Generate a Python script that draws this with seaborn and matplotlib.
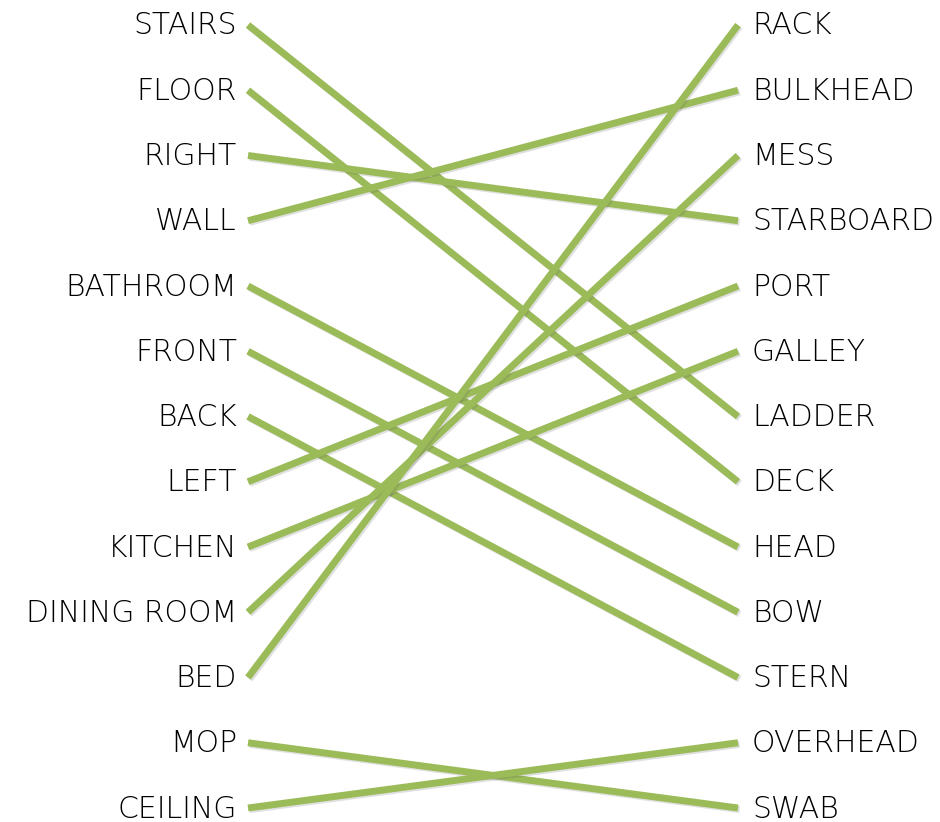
import matplotlib
matplotlib.use("Agg")
import matplotlib.pyplot as plt
import matplotlib.patheffects as pe
import numpy as np
import pandas as pd
import seaborn as sns

# words on each side, top to bottom
left_words = ["STAIRS", "FLOOR", "RIGHT", "WALL", "BATHROOM", "FRONT", "BACK",
              "LEFT", "KITCHEN", "DINING ROOM", "BED", "MOP", "CEILING"]
right_words = ["RACK", "BULKHEAD", "MESS", "STARBOARD", "PORT", "GALLEY", "LADDER",
               "DECK", "HEAD", "BOW", "STERN", "OVERHEAD", "SWAB"]

# which right-hand word each left-hand word is matched to
matches = ["LADDER", "DECK", "STARBOARD", "BULKHEAD", "HEAD", "BOW", "STERN",
           "PORT", "GALLEY", "MESS", "RACK", "SWAB", "OVERHEAD"]

sns.set_theme(style="white")
plt.rcParams['font.family'] = ['DejaVu Sans']

rows = []
for i, (lw, rw) in enumerate(zip(left_words, matches)):
    rows.append({"link": i, "side": 0.0, "row": left_words.index(lw)})
    rows.append({"link": i, "side": 1.0, "row": right_words.index(rw)})
df = pd.DataFrame(rows)

fig = plt.figure(figsize=(9.4, 8.22), dpi=100)
ax = fig.add_axes([0, 0, 1, 1])

sns.lineplot(data=df, x="side", y="row", units="link", estimator=None, sort=False,
             color="#9BBB59", linewidth=5.0, ax=ax, legend=False,
             path_effects=[pe.SimpleLineShadow(offset=(1.2, -1.2), alpha=0.18, shadow_color="#555555"),
                           pe.Normal()])
for line in ax.get_lines():
    line.set_solid_capstyle("butt")

# map pixels: left ends at x~248, right ends at x~738; rows start at y~25, step ~65.25
ax.set_xlim(-248 / 490, (940 - 248) / 490)
ax.set_ylim((822 - 25) / 65.25, -25 / 65.25)

dy = -2 / 65.25
for i, w in enumerate(left_words):
    ax.text(-11 / 490, i + dy, w, ha="right", va="center_baseline", fontsize=21.5,
            color="black", fontweight="light")
for i, w in enumerate(right_words):
    ax.text(1 + 14 / 490, i + dy, w, ha="left", va="center_baseline", fontsize=21.5,
            color="black", fontweight="light")

ax.set_axis_off()
fig.savefig("out.png", dpi=100)
